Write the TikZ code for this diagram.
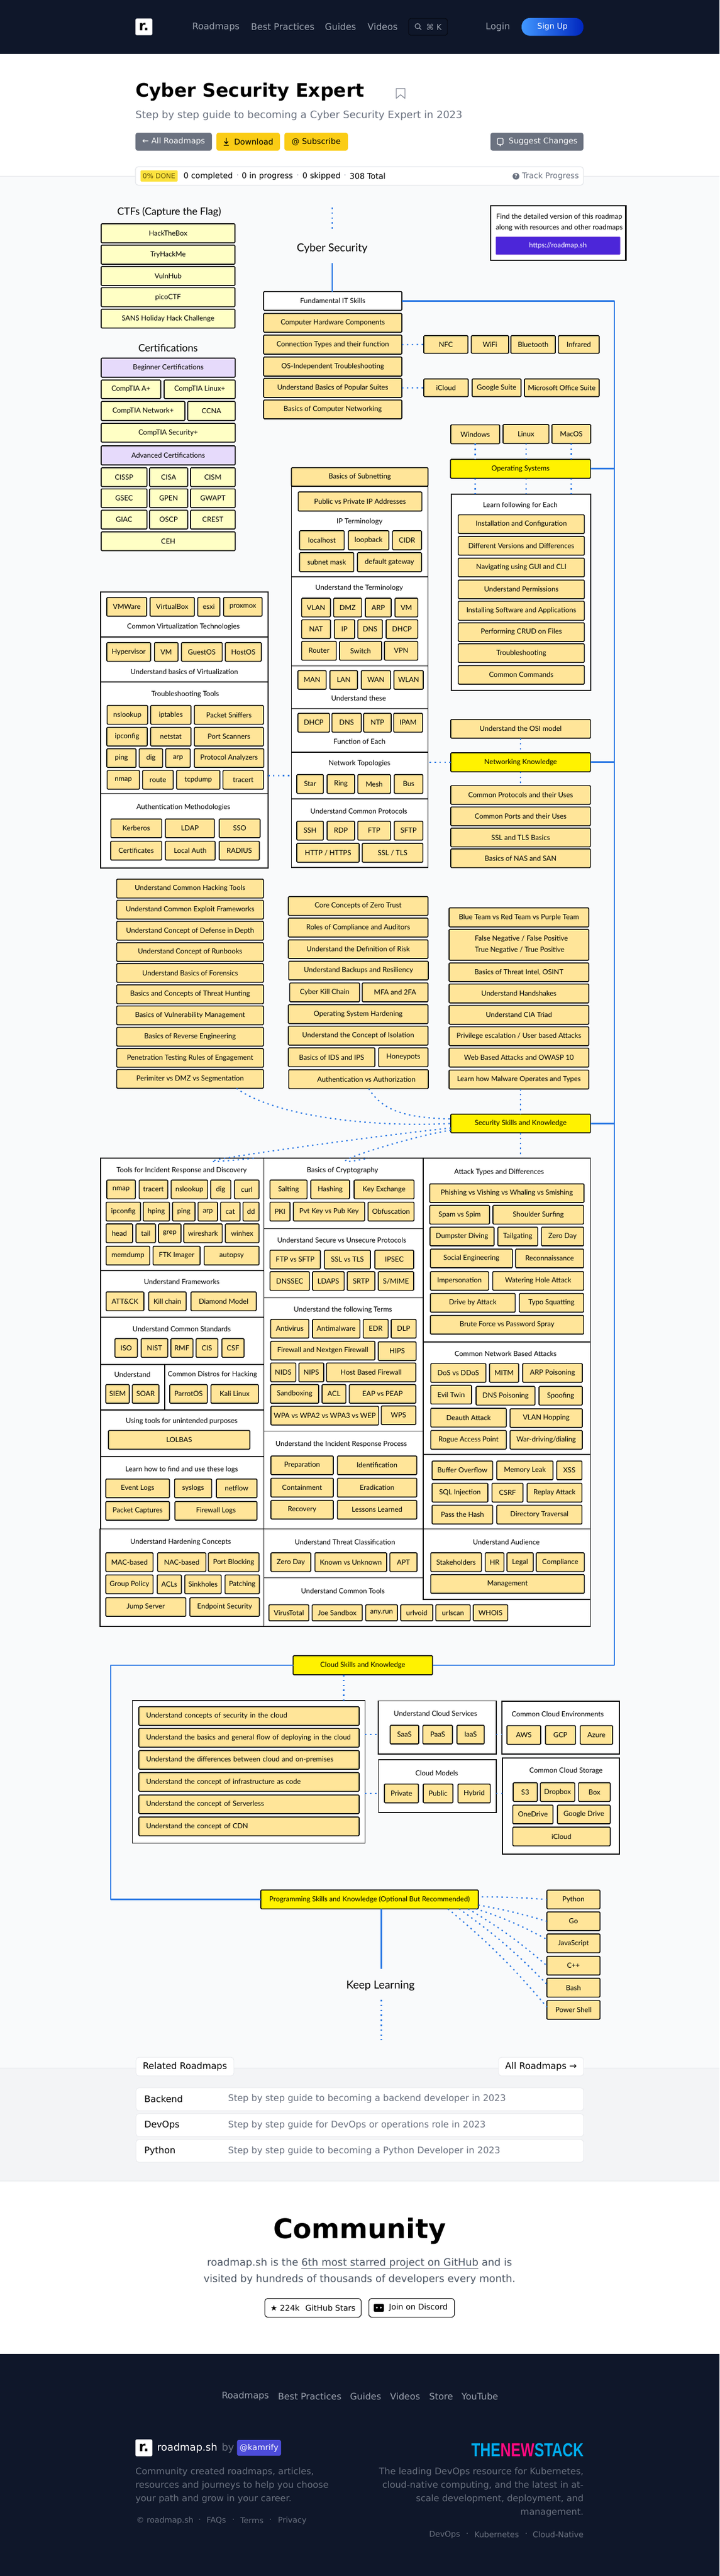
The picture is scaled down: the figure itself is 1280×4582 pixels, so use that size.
\documentclass[tikz,border=0pt]{standalone}
\usepackage{fontspec}
\setmainfont{DejaVu Sans}
\newfontfamily\balfont{Lato}
\newfontfamily\logofont{Liberation Sans}
\usetikzlibrary{calc}
\definecolor{navy}{HTML}{0F172A}
\definecolor{tanfill}{HTML}{FFE599}
\definecolor{lyfill}{HTML}{FFFFC5}
\definecolor{purpfill}{HTML}{E6DAFB}
\definecolor{linkblue}{HTML}{2B78E4}
\definecolor{ink}{HTML}{0B0B0B}
\definecolor{pagegray}{HTML}{F9FAFB}
\definecolor{lowgray}{HTML}{F3F4F6}
\definecolor{rule}{HTML}{E5E7EB}
\definecolor{g500}{HTML}{6B7280}
\definecolor{g400}{HTML}{9CA3AF}
\definecolor{g600}{HTML}{4B5563}
\definecolor{amber}{HTML}{FACC15}
\definecolor{tnscyan}{HTML}{00AEEF}
\definecolor{tnspink}{HTML}{FF0A80}
\newcommand{\boxfont}{\balfont\fontsize{12.5}{20}\selectfont}
\tikzset{
  basebox/.style={draw=ink,line width=1.6pt,rounded corners=1.5pt,inner sep=0pt,outer sep=0pt,align=center,text=black,font=\boxfont},
  tanbox/.style={basebox,fill=tanfill},
  lybox/.style={basebox,fill=lyfill},
  purpbox/.style={basebox,fill=purpfill},
  yelbox/.style={basebox,fill=yellow},
  whitebox/.style={basebox,fill=white},
  secbox/.style={basebox,fill=white,rounded corners=0pt},
  cloudit/.style={tanbox,text width=366pt,align=left},
  lbl/.style={inner sep=0pt,text=black,font=\boxfont,align=center},
  pg/.style={inner sep=0pt,anchor=west},
  pgr/.style={inner sep=0pt,anchor=east},
  pgc/.style={inner sep=0pt},
  solidlink/.style={draw=linkblue,line width=2.8pt},
  dotlink/.style={draw=linkblue,line width=2.2pt,dash pattern=on 2.6pt off 6.2pt},
  btn/.style={rounded corners=4pt,inner sep=0pt,draw=none},
  card/.style={fill=white,draw=rule,line width=0.8pt,rounded corners=5pt,inner sep=0pt},
}
\newcommand{\B}[7][tanbox]{%
  \pgfmathsetmacro\tmpW{#5-#3}\pgfmathsetmacro\tmpH{#6-#4}%
  \pgfmathsetmacro\tmpX{(#3+#5)/2}\pgfmathsetmacro\tmpY{(#4+#6)/2}%
  \node[#1,minimum width=\tmpW pt,minimum height=\tmpH pt] (#2) at (\tmpX,\tmpY) {#7};}
\newcommand{\T}[5][lbl]{\node[#1] (#2) at (#3,#4) {#5};}
\begin{document}
\begin{tikzpicture}[x=1pt,y=-1pt]
\useasboundingbox (0,0) rectangle (1280,4582);
% page bands
\fill[white] (0,0) rectangle (1280,4582);
\fill[navy] (0,0) rectangle (1280,96);
\fill[pagegray] (0,313.3) rectangle (1280,3678.3);
\draw[rule,line width=1pt] (0,313.3) -- (1280,313.3);
\fill[lowgray] (0,3678.3) rectangle (1280,3879);
\draw[rule,line width=1pt] (0,3678.3) -- (1280,3678.3);
\draw[rule,line width=1pt] (0,3879) -- (1280,3879);
\fill[navy] (0,4186.7) rectangle (1280,4582);

% header
\B[fill=white,rounded corners=2.5pt,inner sep=0pt,font=\bfseries\fontsize{24}{24}\selectfont]{hlogo}{241}{33}{271}{62.7}{r.}
\T[pg,text=g400,font=\fontsize{16}{20}\selectfont]{hn1}{342}{47.7}{Roadmaps}
\T[pg,text=g400,font=\fontsize{16}{20}\selectfont]{hn2}{446.5}{47.7}{Best Practices}
\T[pg,text=g400,font=\fontsize{16}{20}\selectfont]{hn3}{578}{47.7}{Guides}
\T[pg,text=g400,font=\fontsize{16}{20}\selectfont]{hn4}{654}{47.7}{Videos}
\B[draw=black!85!navy,line width=0.8pt,rounded corners=4pt,inner sep=0pt]{hsearch}{727}{33}{796}{62.7}{}
\draw[g400,line width=1.2pt] (743,46.5) circle (4.5pt) (746.2,49.7) -- (749.5,53);
\T[pg,text=g400,font=\fontsize{14}{18}\selectfont]{hkey}{758}{47.7}{⌘ K}
\T[pg,text=g400,font=\fontsize{16}{20}\selectfont]{hlogin}{864}{47.7}{Login}
\node[left color=blue!55!cyan!75!white,right color=blue!70!black!85!cyan,rounded corners=15pt,inner sep=0pt,minimum width=110pt,minimum height=31.7pt,text=white,font=\fontsize{14}{18}\selectfont] (hsign) at (983,47.8) {Sign Up};

% title block
\T[pg,text=black,font=\bfseries\fontsize{33}{40}\selectfont]{title}{241}{163.3}{Cyber Security Expert}
\draw[g500!80,line width=1.3pt,line join=round] (705,157.5) -- (720.5,157.5) -- (720.5,175) -- (712.7,168.5) -- (705,175) -- cycle;
\T[pg,text=g500,font=\fontsize{18}{22}\selectfont]{subtitle}{241}{206}{Step by step guide to becoming a Cyber Security Expert in 2023}
\B[btn,fill=g500,text=white,font=\fontsize{14}{18}\selectfont]{b1}{241}{236}{377}{268}{← All Roadmaps}
\B[btn,fill=amber,text=black,font=\fontsize{14}{18}\selectfont]{b2}{385}{236}{498}{268}{\hspace*{20pt}Download}
\draw[black,line width=1.3pt] (402.5,245) -- (402.5,255) (399,251.5) -- (402.5,255.5) -- (406,251.5) (398,258.5) -- (407,258.5);
\B[btn,fill=amber,text=black,font=\fontsize{14}{18}\selectfont]{b3}{506}{236}{619}{268}{@ Subscribe}
\B[btn,fill=g500,text=white,font=\fontsize{14}{18}\selectfont]{b4}{872.6}{236}{1038}{268}{\hspace*{22pt}Suggest Changes}
\draw[white,line width=1.2pt,rounded corners=1.5pt] (885,246) rectangle (895,257);
\fill[white] (888,257) -- (892,257) -- (890,260.5) -- cycle;

% progress bar
\B[fill=white,draw=rule,line width=1.2pt,rounded corners=5pt,inner sep=0pt]{prog0}{241}{296.5}{1038}{329.5}{}
\B[fill=yellow!45!amber!80!white,rounded corners=2pt,inner sep=0pt,text=amber!40!black,font=\fontsize{12}{16}\selectfont]{done}{250}{303}{316}{323}{0\% DONE}
\T[pg,font=\fontsize{14}{18}\selectfont]{p1}{326.5}{313.5}{0 completed}
\T[pg,text=g400,font=\fontsize{14}{18}\selectfont]{ps1}{420.5}{313.5}{·}
\T[pg,font=\fontsize{14}{18}\selectfont]{p2}{430}{313.5}{0 in progress}
\T[pg,text=g400,font=\fontsize{14}{18}\selectfont]{ps2}{527.5}{313.5}{·}
\T[pg,font=\fontsize{14}{18}\selectfont]{p3}{538}{313.5}{0 skipped}
\T[pg,text=g400,font=\fontsize{14}{18}\selectfont]{ps3}{611.5}{313.5}{·}
\T[pg,font=\fontsize{14}{18}\selectfont]{p4}{622}{313.5}{308 Total}
\T[pgr,text=g500,font=\fontsize{14}{18}\selectfont]{p5}{1030}{313.5}{Track Progress}
\node[circle,fill=g500,inner sep=0pt,minimum size=12pt,text=white,font=\bfseries\fontsize{9}{9}\selectfont] (pq) at (918,313.5) {?};

% link box
\B[whitebox,rounded corners=0pt,line width=2.2pt]{linkbox}{872.7}{365.7}{1113.5}{462.7}{}
\T{link1}{995}{385.7}{Find the detailed version of this roadmap}
\T{link2}{995}{404.7}{along with resources and other roadmaps}
\B[fill=blue!65!violet!85!white,draw=blue!55!violet!70!white,line width=1pt,rounded corners=1pt,inner sep=0pt,text=white,font=\boxfont]{linkbtn}{882.4}{421.3}{1103}{452.7}{https://roadmap.sh}

% left column: CTFs and certifications
\T{ctf}{301}{377}{\fontsize{18}{22}\selectfont CTFs (Capture the Flag)}
\B[lybox]{htb}{180}{398}{418}{432}{HackTheBox}
\B[lybox]{thm}{180}{436}{418}{470}{TryHackMe}
\B[lybox]{vuln}{180}{474}{418}{508}{VulnHub}
\B[lybox]{pico}{180}{511.6}{418}{545.6}{picoCTF}
\B[lybox]{sans}{180}{550}{418}{583.5}{SANS Holiday Hack Challenge}
\T{certs}{299}{618.5}{\fontsize{18}{22}\selectfont Certifications}
\B[purpbox]{beg}{180}{637}{418.5}{671}{Beginner Certifications}
\B[lybox]{aplus}{180}{676}{286}{709}{CompTIA A+}
\B[lybox]{linuxp}{292}{676}{418.5}{709}{CompTIA Linux+}
\B[lybox]{netp}{180}{714}{329}{748}{CompTIA Network+}
\B[lybox]{ccna}{334}{714}{418.5}{748}{CCNA}
\B[lybox]{secp}{180}{753}{418.5}{786.5}{CompTIA Security+}
\B[purpbox]{adv}{180}{793}{418.5}{827}{Advanced Certifications}
\B[lybox]{cissp}{180}{832}{261.5}{865.5}{CISSP}
\B[lybox]{cisa}{266}{832}{334}{865.5}{CISA}
\B[lybox]{cism}{339}{832}{418.5}{865.5}{CISM}
\B[lybox]{gsec}{180}{869.6}{261.5}{903}{GSEC}
\B[lybox]{gpen}{266}{869.6}{334}{903}{GPEN}
\B[lybox]{gwapt}{339}{869.6}{418.5}{903}{GWAPT}
\B[lybox]{giac}{180}{907.5}{261.5}{941}{GIAC}
\B[lybox]{oscp}{266}{907.5}{334}{941}{OSCP}
\B[lybox]{crest}{339}{907.5}{418.5}{941}{CREST}
\B[lybox]{ceh}{180}{946}{418.5}{979.5}{CEH}

% start / fundamentals
\T{cyber}{591}{442}{\fontsize{19.5}{24}\selectfont Cyber Security}
\B[whitebox]{fund}{469}{518.6}{715}{552}{Fundamental IT Skills}
\B{hw}{469}{557.5}{715}{591}{Computer Hardware Components}
\B{conn}{469}{596}{715}{630}{Connection Types and their function}
\B{ostrb}{469}{635}{715}{669}{OS-Independent Troubleshooting}
\B{suites}{469}{673}{715}{707}{Understand Basics of Popular Suites}
\B{cnet}{469}{711.5}{715}{745}{Basics of Computer Networking}
\B{nfc}{754}{597}{832.5}{628.5}{NFC}
\B{wifi}{838.5}{597}{905}{628.5}{WiFi}
\B{bt}{909}{597}{988}{628.5}{Bluetooth}
\B{ir}{993.6}{597}{1066}{628.5}{Infrared}
\B{icl}{754}{674}{833}{705.5}{iCloud}
\B{gsuite}{840}{674}{927}{705.5}{Google Suite}
\B{msoff}{933}{674}{1066}{705.5}{Microsoft Office Suite}

% operating systems
\B{win}{802}{755.6}{889}{789.3}{Windows}
\B{lin}{895}{755}{976.6}{788.7}{Linux}
\B{mac}{982}{755}{1051}{788.7}{MacOS}
\B[yelbox]{os}{801.5}{817}{1050.6}{850.7}{Operating Systems}
\B[secbox]{learn}{802.7}{878.8}{1051}{1228}{}
\T{learnt}{925.7}{898.7}{Learn following for Each}
\B{inst}{815.4}{915.6}{1039.6}{949}{Installation and Configuration}
\B{diff}{815.4}{954}{1039.6}{987.5}{Different Versions and Differences}
\B{nav}{815.4}{992.7}{1039.6}{1026}{Navigating using GUI and CLI}
\B{perm}{815.4}{1031.7}{1039.6}{1065}{Understand Permissions}
\B{soft}{815.4}{1069.3}{1039.6}{1103.3}{Installing Software and Applications}
\B{crud}{815.4}{1107.7}{1039.6}{1141}{Performing CRUD on Files}
\B{trb}{815.4}{1145}{1039.6}{1178.3}{Troubleshooting}
\B{cmd}{815.4}{1183.7}{1039.6}{1217}{Common Commands}

% networking column
\B{osi}{802}{1279.7}{1050.6}{1313}{Understand the OSI model}
\B[yelbox]{netk}{802}{1339}{1050.6}{1372.7}{Networking Knowledge}
\B{cproto}{802}{1397.3}{1050.6}{1430.7}{Common Protocols and their Uses}
\B{cports}{802}{1435.3}{1050.6}{1468.7}{Common Ports and their Uses}
\B{ssltls}{802}{1473}{1050.6}{1506.3}{SSL and TLS Basics}
\B{nas}{802}{1510}{1050.6}{1543.3}{Basics of NAS and SAN}

% subnet column
\B[secbox]{s1}{518.5}{864.7}{761.5}{1026}{}
\B[secbox]{s2}{518.5}{1026}{761.5}{1184.3}{}
\B[secbox]{s3}{518.5}{1184.3}{761.5}{1260.3}{}
\B[secbox]{s4}{518.5}{1260.3}{761.5}{1338}{}
\B[secbox]{s5}{518.5}{1338}{761.5}{1421}{}
\B[secbox]{s6}{518.5}{1421}{761.5}{1542.7}{}
\B{subnet}{518.5}{831.8}{761.5}{864.7}{Basics of Subnetting}
\B{pubpriv}{530.6}{875}{750.6}{909}{Public vs Private IP Addresses}
\T{ipt}{639.7}{927.8}{IP Terminology}
\B{localh}{533}{944}{612.4}{978}{localhost}
\B{loopb}{619.7}{944}{691.8}{978}{loopback}
\B{cidr}{698.4}{944}{750}{978}{CIDR}
\B{submask}{533}{983}{629.4}{1017}{subnet mask}
\B{defgw}{636}{983}{750}{1017}{default gateway}
\T{utt}{639}{1045.7}{Understand the Terminology}
\B{vlan}{536.6}{1064}{588}{1097.3}{VLAN}
\B{dmz}{593.6}{1064}{643.3}{1097.3}{DMZ}
\B{arpa}{650}{1064}{696}{1097.3}{ARP}
\B{vma}{702.7}{1064}{743.3}{1097.3}{VM}
\B{nat}{536.6}{1102.3}{588}{1135.7}{NAT}
\B{ipa}{594.8}{1102.3}{631}{1135.7}{IP}
\B{dnsa}{636.6}{1102.3}{680.3}{1135.7}{DNS}
\B{dhcpa}{687}{1102.3}{743.3}{1135.7}{DHCP}
\B{router}{536.6}{1140.7}{598.4}{1174.3}{Router}
\B{switch}{604}{1140.7}{679}{1174.3}{Switch}
\B{vpn}{684}{1140.7}{743.3}{1174.3}{VPN}
\B{man}{530}{1192.7}{580.3}{1226}{MAN}
\B{lan}{587}{1192.7}{636}{1226}{LAN}
\B{wan}{642.7}{1192.7}{694.8}{1226}{WAN}
\B{wlan}{700.9}{1192.7}{753}{1226}{WLAN}
\T{uthese}{638}{1241.7}{Understand these}
\B{dhcpb}{530}{1268.7}{586.3}{1302.3}{DHCP}
\B{dnsb}{590.6}{1268.7}{642.7}{1302.3}{DNS}
\B{ntp}{647}{1268.7}{696}{1302.3}{NTP}
\B{ipam}{700.3}{1268.7}{751.8}{1302.3}{IPAM}
\T{feach}{639.6}{1318.7}{Function of Each}
\T{ntop}{639.6}{1357.7}{Network Topologies}
\B{star}{528}{1377.7}{575.4}{1411.3}{Star}
\B{ring}{582}{1377.7}{631}{1411.3}{Ring}
\B{mesh}{636.6}{1377.7}{694.8}{1411.3}{Mesh}
\B{bus}{701.5}{1377.7}{752.4}{1411.3}{Bus}
\T{ucp}{638.4}{1442.7}{Understand Common Protocols}
\B{ssh}{528}{1460.7}{575.4}{1494.3}{SSH}
\B{rdp}{582}{1460.7}{631}{1494.3}{RDP}
\B{ftp}{636.6}{1460.7}{694.8}{1494.3}{FTP}
\B{sftp}{701.5}{1460.7}{752.4}{1494.3}{SFTP}
\B{http}{528}{1500}{639}{1533.7}{HTTP / HTTPS}
\B{ssltl}{644.5}{1500}{752.4}{1533.7}{SSL / TLS}

% virtualization column
\B[secbox]{v1}{179}{1052.7}{477}{1133}{}
\B[secbox]{v2}{179}{1133}{477}{1213}{}
\B[secbox]{v3}{179}{1213}{477}{1411.3}{}
\B[secbox]{v4}{179}{1411.3}{477}{1544}{}
\B{vmw}{190}{1062.7}{261}{1096}{VMWare}
\B{vbox}{267}{1062.7}{345.8}{1096}{VirtualBox}
\B{esxi}{351.8}{1062.7}{391.2}{1096}{esxi}
\B{prox}{397.9}{1062.7}{466.3}{1096}{proxmox}
\T{cvt}{326.3}{1114.7}{Common Virtualization Technologies}
\B{hyper}{190}{1143}{268}{1176.3}{Hypervisor}
\B{vmb}{274.8}{1143}{316.7}{1176.3}{VM}
\B{guest}{322.7}{1143}{395.4}{1176.3}{GuestOS}
\B{hosto}{400.9}{1143}{465}{1176.3}{HostOS}
\T{ubv}{328}{1194.7}{Understand basics of Virtualization}
\T{ttools}{329.4}{1234.7}{Troubleshooting Tools}
\B{nslk}{190.6}{1254.7}{262.7}{1288.3}{nslookup}
\B{ipt2}{268}{1254.7}{339.7}{1288.3}{iptables}
\B{sniff}{345.8}{1254.7}{468.8}{1288.3}{Packet Sniffers}
\B{ipcfg}{190}{1293.7}{262}{1327}{ipconfig}
\B{nstat}{268}{1293.7}{339.7}{1327}{netstat}
\B{pscan}{345.8}{1293.7}{468.8}{1327}{Port Scanners}
\B{pingb}{190}{1331.7}{242}{1365}{ping}
\B{digb}{247.6}{1331.7}{289.4}{1365}{dig}
\B{arpb}{294.8}{1331.7}{338.5}{1365}{arp}
\B{proto}{345.8}{1331.7}{469.4}{1365}{Protocol Analyzers}
\B{nmapb}{190.6}{1370.3}{248.2}{1403.7}{nmap}
\B{route}{253.6}{1370.3}{308.2}{1403.7}{route}
\B{tcpd}{314.2}{1370.3}{391.2}{1403.7}{tcpdump}
\B{trac}{396.6}{1370.3}{468.8}{1403.7}{tracert}
\T{authm}{326.3}{1435.7}{Authentication Methodologies}
\B{kerb}{197.3}{1456.7}{287.6}{1490}{Kerberos}
\B{ldap}{294.2}{1456.7}{381.5}{1490}{LDAP}
\B{sso}{390}{1456.7}{462.7}{1490}{SSO}
\B{certf}{197}{1496.3}{287.6}{1529.7}{Certificates}
\B{local}{294.2}{1496.3}{382.7}{1529.7}{Local Auth}
\B{radius}{390}{1496.3}{461.5}{1529.7}{RADIUS}

% security lists
\B{l1}{207.6}{1563.7}{468.8}{1597.3}{Understand Common Hacking Tools}
\B{l2}{207.6}{1601.3}{468.8}{1634.7}{Understand Common Exploit Frameworks}
\B{l3}{207.6}{1638.7}{468.8}{1672.3}{Understand Concept of Defense in Depth}
\B{l4}{207.6}{1676.7}{468.8}{1710}{Understand Concept of Runbooks}
\B{l5}{207.6}{1714}{468.8}{1747.3}{Understand Basics of Forensics}
\B{l6}{207.6}{1751.7}{468.8}{1785.3}{Basics and Concepts of Threat Hunting}
\B{l7}{207.6}{1789.3}{468.8}{1822.7}{Basics of Vulnerability Management}
\B{l8}{207.6}{1827.3}{468.8}{1860.7}{Basics of Reverse Engineering}
\B{l9}{207.6}{1865}{468.8}{1898.3}{Penetration Testing Rules of Engagement}
\B{l10}{207.6}{1902.3}{468.8}{1935.7}{Perimiter vs DMZ vs Segmentation}
\B{c1}{513}{1594.7}{761.5}{1628.3}{Core Concepts of Zero Trust}
\B{c2}{513}{1633}{761.5}{1666.7}{Roles of Compliance and Auditors}
\B{c3}{513}{1671.7}{761.5}{1705}{Understand the Definition of Risk}
\B{c4}{513.6}{1709.7}{762}{1743}{Understand Backups and Resiliency}
\B{c5}{515.4}{1748.3}{639.7}{1782}{Cyber Kill Chain}
\B{c6}{644.5}{1748.3}{761.5}{1782}{MFA and 2FA}
\B{c7}{513}{1787}{761.5}{1820.7}{Operating System Hardening}
\B{c8}{513}{1825.3}{761.5}{1859}{Understand the Concept of Isolation}
\B{c9}{513}{1863.7}{667}{1897.3}{Basics of IDS and IPS}
\B{c10}{673.6}{1863.7}{761.5}{1897.3}{Honeypots}
\B{c11}{513.6}{1902.7}{762}{1936.3}{\hspace*{28pt}Authentication vs Authorization}
\B{r1}{799}{1614.7}{1047.5}{1648.7}{Blue Team vs Red Team vs Purple Team}
\B[tanbox,align=left]{r2}{799}{1653}{1047.5}{1708}{\hspace*{9pt}False Negative / False Positive\\\hspace*{9pt}True Negative / True Positive}
\B{r3}{799}{1712.7}{1047.5}{1746}{Basics of Threat Intel, OSINT}
\B{r4}{799}{1750.3}{1047.5}{1784}{Understand Handshakes}
\B{r5}{799}{1788.3}{1047.5}{1822}{Understand CIA Triad}
\B{r6}{799}{1826.3}{1047.5}{1860}{Privilege escalation / User based Attacks}
\B{r7}{799}{1864.3}{1047.5}{1898}{Web Based Attacks and OWASP 10}
\B{r8}{799}{1903.3}{1047.5}{1937}{Learn how Malware Operates and Types}
\B[yelbox]{sec}{802}{1981.7}{1050.6}{2015}{Security Skills and Knowledge}

% big table: sections
\B[secbox]{t1}{179}{2060}{469.4}{2260}{}
\B[secbox]{t2}{179}{2260}{469.4}{2342.7}{}
\B[secbox]{t3}{179}{2342.7}{469.4}{2426.7}{}
\B[secbox]{t4a}{179}{2426.7}{293}{2508}{}
\B[secbox]{t4b}{293}{2426.7}{469.4}{2508}{}
\B[secbox]{t5}{179}{2508}{469.4}{2590.7}{}
\B[secbox]{t6}{179}{2590.7}{469.4}{2719.3}{}
\B[secbox]{t7}{178}{2719.3}{469.4}{2893}{}
\B[secbox]{m1}{469.4}{2060}{753}{2185.3}{}
\B[secbox]{m2}{469.4}{2185.3}{753}{2308.3}{}
\B[secbox]{m3}{469.4}{2308.3}{753}{2545.3}{}
\B[secbox]{m4}{469.4}{2545.3}{753}{2719.3}{}
\B[secbox]{m5}{469.4}{2719.3}{753}{2806.3}{}
\B[secbox]{m6}{469.4}{2806.3}{1050.6}{2893}{}
\B[secbox]{a1}{753}{2060}{1050.6}{2386.7}{}
\B[secbox]{a2}{753}{2386.7}{1050.6}{2587}{}
\B[secbox]{a3}{753}{2587}{1050.6}{2719.3}{}
\B[secbox]{a4}{753}{2719.3}{1050.6}{2844.7}{}

\T{tir}{323.3}{2081.7}{Tools for Incident Response and Discovery}
\B{nmapc}{190}{2099}{240.9}{2132.3}{nmap}
\B{tracc}{247.6}{2099}{298.5}{2132.3}{tracert}
\B{nslkc}{304.5}{2099}{369.4}{2132.3}{nslookup}
\B{digc}{374.8}{2099}{410.6}{2132.3}{dig}
\B{curl}{417.2}{2099}{460.9}{2132.3}{curl}
\B{ipcc}{188.8}{2138.3}{250}{2171.7}{ipconfig}
\B{hping}{254.8}{2138.3}{301.5}{2171.7}{hping}
\B{pingc}{307}{2138.3}{347}{2171.7}{ping}
\B{arpc}{352.4}{2138.3}{387}{2171.7}{arp}
\B{cat}{392.4}{2138.3}{427}{2171.7}{cat}
\B{dd}{432.4}{2138.3}{460.9}{2171.7}{dd}
\B{head}{188.8}{2177}{236}{2210.3}{head}
\B{tail}{242}{2177}{276.7}{2210.3}{tail}
\B{grep}{282}{2177}{322}{2210.3}{grep}
\B{wire}{327}{2177}{395.4}{2210.3}{wireshark}
\B{winh}{400.9}{2177}{460.9}{2210.3}{winhex}
\B{memd}{188.8}{2216.7}{266.4}{2250}{memdump}
\B{ftk}{272.4}{2216.7}{356}{2250}{FTK Imager}
\B{autop}{363.3}{2216.7}{460.9}{2250}{autopsy}
\T{ufw}{323.3}{2279.7}{Understand Frameworks}
\B{attck}{188.8}{2298}{256}{2331.3}{ATT\&CK}
\B{killc}{264.5}{2298}{331.2}{2331.3}{Kill chain}
\B{diam}{339.7}{2298}{456}{2331.3}{Diamond Model}
\T{ucs}{323.3}{2363.7}{Understand Common Standards}
\B{iso}{204.5}{2381}{244.5}{2414.3}{ISO}
\B{nist}{251.2}{2381}{298.5}{2414.3}{NIST}
\B{rmf}{304}{2381}{343.3}{2414.3}{RMF}
\B{cis}{348.8}{2381}{387.6}{2414.3}{CIS}
\B{csf}{394.8}{2381}{434.2}{2414.3}{CSF}
\T{und}{235.4}{2445.3}{Understand}
\T{cdh}{377.9}{2444.7}{Common Distros for Hacking}
\B{siem}{188.2}{2462.7}{230}{2496}{SIEM}
\B{soar}{235.4}{2462.7}{282.7}{2496}{SOAR}
\B{parrot}{302}{2462.7}{368.8}{2496}{ParrotOS}
\B{kali}{375.4}{2462.7}{459.7}{2496}{Kali Linux}
\T{uup}{323.3}{2527.7}{Using tools for unintended purposes}
\B{lol}{193}{2544.3}{444.5}{2577.7}{LOLBAS}
\T{lhow}{323.3}{2613.7}{Learn how to find and use these logs}
\B{evl}{188.2}{2630.7}{301.5}{2664}{Event Logs}
\B{sysl}{310.6}{2630.7}{376.6}{2664}{syslogs}
\B{netfl}{385}{2630.7}{457.2}{2664}{netflow}
\B{pcap}{188.2}{2670.7}{301.5}{2704}{Packet Captures}
\B{fwl}{311.2}{2670.7}{457.2}{2704}{Firewall Logs}
\T{uhc}{321.5}{2742.7}{Understand Hardening Concepts}
\B{macb}{188.2}{2762}{272.4}{2795.3}{MAC-based}
\B{nacb}{280.3}{2762}{366.3}{2795.3}{NAC-based}
\B{portb}{370.6}{2762}{460.9}{2795.3}{Port Blocking}
\B{gpol}{188.2}{2801.3}{272.4}{2834.7}{Group Policy}
\B{acls}{279.7}{2801.3}{322.7}{2834.7}{ACLs}
\B{sink}{328.8}{2801.3}{393.6}{2834.7}{Sinkholes}
\B{patch}{400.3}{2801.3}{461.5}{2834.7}{Patching}
\B{jump}{188.2}{2841.7}{330.6}{2875}{Jump Server}
\B{endp}{337.9}{2841.7}{461.5}{2875}{Endpoint Security}

\T{boc}{609.3}{2081.7}{Basics of Cryptography}
\B{salt}{480.3}{2099}{546.3}{2132.3}{Salting}
\B{hash}{553}{2099}{622}{2132.3}{Hashing}
\B{kex}{630}{2099}{736.6}{2132.3}{Key Exchange}
\B{pki}{480.3}{2138.3}{516}{2171.7}{PKI}
\B{pvt}{522}{2138.3}{648.8}{2171.7}{Pvt Key vs Pub Key}
\B{obf}{654.8}{2138.3}{736.6}{2171.7}{Obfuscation}
\T{usu}{608}{2205.7}{Understand Secure vs Unsecure Protocols}
\B{fvs}{480.3}{2223.7}{570}{2257}{FTP vs SFTP}
\B{svt}{577.2}{2223.7}{659}{2257}{SSL vs TLS}
\B{ipsec}{667}{2223.7}{736}{2257}{IPSEC}
\B{dnssec}{480.3}{2262}{550.6}{2295.3}{DNSSEC}
\B{ldaps}{556}{2262}{612.4}{2295.3}{LDAPS}
\B{srtp}{617.8}{2262}{667}{2295.3}{SRTP}
\B{smime}{673}{2262}{736}{2295.3}{S/MIME}
\T{uft}{610}{2329.7}{Understand the following Terms}
\B{av}{481.5}{2346.7}{549.4}{2380}{Antivirus}
\B{am}{556}{2346.7}{640.3}{2380}{Antimalware}
\B{edr}{646.3}{2346.7}{690.6}{2380}{EDR}
\B{dlp}{696}{2346.7}{740.3}{2380}{DLP}
\B{fwn}{481.5}{2385.7}{667}{2419}{Firewall and Nextgen Firewall}
\B{hips}{673}{2386.7}{740.3}{2420}{HIPS}
\B{nids}{481.5}{2424.3}{526.3}{2457.7}{NIDS}
\B{nips}{531.8}{2424.3}{576}{2457.7}{NIPS}
\B{hbf}{580.9}{2424.3}{739.7}{2457.7}{Host Based Firewall}
\B{sandb}{481.5}{2462.7}{567}{2496}{Sandboxing}
\B{aclb}{573}{2462.7}{615.4}{2496}{ACL}
\B{eap}{621.5}{2462.7}{739.7}{2496}{EAP vs PEAP}
\B{wpa}{482}{2501.3}{673.6}{2534.7}{WPA vs WPA2 vs WPA3 vs WEP}
\B{wps}{678.4}{2500.7}{739.7}{2534}{WPS}
\T{uirp}{607}{2568.7}{Understand the Incident Response Process}
\B{prep}{482}{2589.7}{593}{2623}{Preparation}
\B{ident}{600.3}{2589.7}{741.5}{2623}{Identification}
\B{cont}{482}{2629.3}{593}{2662.7}{Containment}
\B{erad}{600.3}{2629.3}{741.5}{2662.7}{Eradication}
\B{recov}{482}{2668.7}{593}{2702}{Recovery}
\B{lesson}{600.3}{2668.7}{741.5}{2702}{Lessons Learned}
\T{utc}{613.6}{2742.7}{Understand Threat Classification}
\B{zd}{482}{2762}{553}{2795.3}{Zero Day}
\B{kvu}{560.3}{2762}{688}{2795.3}{Known vs Unknown}
\B{apt}{693.6}{2762}{742}{2795.3}{APT}
\T{uct}{610}{2829.7}{Understand Common Tools}
\B{vt}{478.5}{2854.3}{549.4}{2883}{VirusTotal}
\B{joe}{555.4}{2854.3}{644.5}{2883}{Joe Sandbox}
\B{anyr}{650.6}{2854.3}{707}{2883}{any.run}
\B{urlv}{713}{2854.3}{770}{2883}{urlvoid}
\B{urls}{775.4}{2854.3}{836.6}{2883}{urlscan}
\B{whois}{842}{2854.3}{903.3}{2883}{WHOIS}

\T{atd}{888}{2084.7}{Attack Types and Differences}
\B{phish}{764.5}{2105.7}{1039}{2139}{Phishing vs Vishing vs Whaling vs Smishing}
\B{spam}{764.5}{2144}{871}{2177.3}{Spam vs Spim}
\B{shoul}{877}{2144}{1038.4}{2177.3}{Shoulder Surfing}
\B{dump}{765}{2182.7}{879}{2216}{Dumpster Diving}
\B{tailg}{885.7}{2182.7}{956.6}{2216}{Tailgating}
\B{zdb}{963.3}{2182.7}{1038.4}{2216}{Zero Day}
\B{social}{765.7}{2221.7}{911.8}{2255}{Social Engineering}
\B{recon}{917.2}{2221.7}{1038.4}{2255}{Reconnaissance}
\B{imper}{765.7}{2261.7}{869.3}{2295}{Impersonation}
\B{water}{876.6}{2261.7}{1038.4}{2295}{Watering Hole Attack}
\B{drive}{765.7}{2300.7}{916.6}{2334}{Drive by Attack}
\B{typo}{923.9}{2300.7}{1038.4}{2334}{Typo Squatting}
\B{brute}{765.7}{2339.7}{1038.4}{2373}{Brute Force vs Password Spray}
\T{cnb}{899.6}{2407.7}{Common Network Based Attacks}
\B{dos}{766.3}{2425.3}{864.5}{2458.7}{DoS vs DDoS}
\B{mitm}{871}{2425.3}{922.7}{2458.7}{MITM}
\B{arpp}{930}{2425.3}{1036}{2458.7}{ARP Poisoning}
\B{evil}{766.3}{2464}{839}{2497.3}{Evil Twin}
\B{dnsp}{847}{2466}{951.8}{2499.3}{DNS Poisoning}
\B{spoof}{959}{2466}{1036}{2499.3}{Spoofing}
\B{deauth}{766.3}{2505}{900.8}{2538.3}{Deauth Attack}
\B{vhop}{907.5}{2505.7}{1036}{2539}{VLAN Hopping}
\B{rogue}{766.3}{2544.3}{900.8}{2577.7}{Rogue Access Point}
\B{war}{907.5}{2544.3}{1036}{2577.7}{War-driving/dialing}
\B{buff}{768.7}{2598.7}{876.6}{2632}{Buffer Overflow}
\B{memlk}{883.9}{2598.7}{983.9}{2632}{Memory Leak}
\B{xss}{990.5}{2598.7}{1035.4}{2632}{XSS}
\B{sqli}{768.7}{2638.3}{868}{2671.7}{SQL Injection}
\B{csrf}{875.4}{2638.3}{930.5}{2671.7}{CSRF}
\B{repl}{937.8}{2638.3}{1035.4}{2671.7}{Replay Attack}
\B{pth}{768.7}{2677.3}{876.6}{2710.7}{Pass the Hash}
\B{dirt}{883.9}{2677.3}{1035.4}{2710.7}{Directory Traversal}
\T{uaud}{900.8}{2742.7}{Understand Audience}
\B{stake}{766.3}{2762}{856.6}{2795.3}{Stakeholders}
\B{hr}{863.3}{2762}{896.6}{2795.3}{HR}
\B{legal}{902}{2762}{948.7}{2795.3}{Legal}
\B{compl}{954}{2762}{1039.6}{2795.3}{Compliance}
\B{mgmt}{766.3}{2800.7}{1039.6}{2834}{Management}

% cloud
\B[yelbox]{cloud}{521.5}{2945}{769.5}{2979}{Cloud Skills and Knowledge}
\B[secbox]{cl0}{235.4}{3025}{649.4}{3278.3}{}
\B[cloudit]{cl1}{247}{3035.7}{639}{3069}{Understand concepts of security in the cloud}
\B[cloudit]{cl2}{247}{3074.3}{639}{3107.7}{Understand the basics and general flow of deploying in the cloud}
\B[cloudit]{cl3}{247}{3113.7}{639}{3147}{Understand the differences between cloud and on-premises}
\B[cloudit]{cl4}{247}{3153}{639}{3186.3}{Understand the concept of infrastructure as code}
\B[cloudit]{cl5}{247}{3192.7}{639}{3226}{Understand the concept of Serverless}
\B[cloudit]{cl6}{247}{3232}{639}{3265.3}{Understand the concept of CDN}
\B[secbox]{ucs0}{673}{3025.3}{882.7}{3119.7}{}
\T{ucst}{774.8}{3047.7}{Understand Cloud Services}
\B{saas}{694.2}{3068.7}{745}{3102}{SaaS}
\B{paas}{752.4}{3068.7}{805}{3102}{PaaS}
\B{iaas}{813}{3068.7}{861.5}{3102}{IaaS}
\B[secbox]{cm0}{673.6}{3130}{882.7}{3223.7}{}
\T{cmt}{777}{3153.7}{Cloud Models}
\B{priv}{684}{3173.3}{744.5}{3206.7}{Private}
\B{publ}{753}{3173.3}{805.7}{3206.7}{Public}
\B{hybr}{814.8}{3173.3}{872.4}{3206.7}{Hybrid}
\B[secbox]{ce0}{893}{3026}{1102}{3120}{}
\T{cet}{992.3}{3048.7}{Common Cloud Environments}
\B{aws}{902}{3069.3}{962}{3102.7}{AWS}
\B{gcp}{970.5}{3069.3}{1023.9}{3102.7}{GCP}
\B{azure}{1032.4}{3069.3}{1090}{3102.7}{Azure}
\B[secbox]{cs0}{894}{3126.7}{1102}{3297.7}{}
\T{cst}{1007}{3149.7}{Common Cloud Storage}
\B{s3}{913}{3171}{956}{3204.3}{S3}
\B{drop}{961.4}{3171}{1022.6}{3204.3}{Dropbox}
\B{boxb}{1029.3}{3171}{1085.7}{3204.3}{Box}
\B{oned}{912.3}{3210.7}{983.9}{3244}{OneDrive}
\B{gdr}{991.7}{3210.7}{1085.7}{3244}{Google Drive}
\B{icl2}{912.3}{3250}{1085.7}{3283.3}{iCloud}

% programming
\B[yelbox]{prog}{464}{3361.7}{851}{3395.3}{Programming Skills and Knowledge (Optional But Recommended)}
\B{py}{973}{3362}{1067.5}{3395.3}{Python}
\B{go}{973}{3400.7}{1067.5}{3434}{Go}
\B{js}{973}{3440}{1067.5}{3473.3}{JavaScript}
\B{cpp}{973}{3479.7}{1067.5}{3513}{C++}
\B{bash}{973}{3518.7}{1067.5}{3552.3}{Bash}
\B{ps}{973}{3558.3}{1067.5}{3591.7}{Power Shell}
\T{keep}{677}{3532}{\fontsize{19.5}{24}\selectfont Keep Learning}

% connector anchors
\coordinate (railtop) at (1093,535.3);
\coordinate (railbot) at (1093,2962);
\coordinate (leftrailtop) at (197,2962);
\coordinate (leftrailbot) at (197,3378.5);
\coordinate (starttop) at (591,369);
\coordinate (startgap) at (591,407);
\coordinate (startlow) at (591,468);
\coordinate (keephi) at (678.5,3502);
\coordinate (keeplo) at (678.5,3557);
\coordinate (keepend) at (678.5,3629);

% solid connectors
\draw[solidlink,line join=round] (fund.east) -- (railtop) -- (railbot) -- (cloud.east |- railbot);
\draw[solidlink] (os.east) -- (os.east -| railtop);
\draw[solidlink] (netk.east) -- (netk.east -| railtop);
\draw[solidlink] (sec.east) -- (sec.east -| railtop);
\draw[solidlink,line join=round] (cloud.west |- railbot) -- (leftrailtop) -- (leftrailbot) -- (prog.west);
\draw[solidlink] (startlow) -- (fund.north -| startlow);
\draw[solidlink] (prog.south -| keephi) -- (keephi);

% dotted connectors
\draw[dotlink] (starttop) -- (startgap);
\draw[dotlink] (keeplo) -- (keepend);
\draw[dotlink] (conn.east) -- (nfc.west);
\draw[dotlink] (suites.east) -- (icl.west);
\draw[dotlink] (win.south) -- (win.south |- os.north);
\draw[dotlink] (lin.south) -- (lin.south |- os.north);
\draw[dotlink] (mac.south) -- (mac.south |- os.north);
\draw[dotlink] (win.south |- os.south) -- (win.south |- learn.north);
\draw[dotlink] (lin.south |- os.south) -- (lin.south |- learn.north);
\draw[dotlink] (mac.south |- os.south) -- (mac.south |- learn.north);
\draw[dotlink] (osi.south) -- (netk.north);
\draw[dotlink] (netk.south) -- (cproto.north);
\draw[dotlink] (netk.west) -- (netk.west -| s5.east);
\draw[dotlink] (v3.east |- s5.west) -- (s5.west);
\draw[dotlink] (r8.south -| sec.north) -- (sec.north);
\draw[dotlink] (sec.south) -- ([yshift=7pt]sec.south |- a1.north);
\draw[dotlink] ([xshift=-48pt]l10.south east) .. controls +(60,45) and +(-160,8) .. (sec.west);
\draw[dotlink] ([xshift=-106pt]c11.south east) .. controls +(25,40) and +(-80,-2) .. ([yshift=8pt]sec.west);
\draw[dotlink] ([yshift=-8pt]sec.west) .. controls +(-170,18) and +(-250,25) .. ([xshift=-16pt]t1.north east);
\draw[dotlink] ([yshift=-12pt]sec.west) .. controls +(-80,12) and +(-125,25) .. ([xshift=-97pt]m1.north east);
\draw[dotlink] (cloud.south -| cl0.north east) ++(-38,0) -- ([xshift=-38pt]cl0.north east);
\draw[dotlink] (cl0.east |- saas.west) -- (ucs0.west |- saas.west);
\draw[dotlink] (cl0.east |- priv.west) -- (cm0.west |- priv.west);
\draw[dotlink] (ucs0.east |- saas.west) -- (ce0.west |- saas.west);
\draw[dotlink] (cm0.east |- priv.west) -- (cs0.west |- priv.west);
\draw[dotlink] ([xshift=6pt,yshift=4.5pt]prog.east) to[bend left=2] (py.west);
\draw[dotlink] ([yshift=-10pt]prog.east) to[bend left=3] (go.west);
\draw[dotlink] ([xshift=-4pt]prog.south east) to[bend left=5] ([yshift=7pt]js.west);
\draw[dotlink] ([xshift=-18pt]prog.south east) to[bend left=5] (cpp.west);
\draw[dotlink] ([xshift=-34pt]prog.south east) to[bend left=5] ([yshift=6pt]bash.west);
\draw[dotlink] ([xshift=-54pt]prog.south east) to[bend left=5] ([yshift=5pt]ps.west);

% related roadmaps
\B[card]{rel}{242}{3659.3}{416}{3692.3}{\fontsize{16}{20}\selectfont Related Roadmaps}
\B[card]{allr}{887}{3659.3}{1038.3}{3692.3}{\fontsize{16}{20}\selectfont All Roadmaps →}
\B[card]{cback}{242}{3713.7}{1038.3}{3754.3}{}
\B[card]{cdev}{242}{3759.7}{1038.3}{3800.3}{}
\B[card]{cpy}{242}{3805.7}{1038.3}{3846}{}
\T[pg,font=\fontsize{16}{20}\selectfont]{cbn}{256.6}{3733.5}{Backend}
\T[pg,font=\fontsize{16}{20}\selectfont]{cdn}{256.6}{3779.7}{DevOps}
\T[pg,font=\fontsize{16}{20}\selectfont]{cpn}{256.6}{3825.7}{Python}
\T[pg,text=g500,font=\fontsize{16}{20}\selectfont]{cbd}{405.7}{3733.5}{Step by step guide to becoming a backend developer in 2023}
\T[pg,text=g500,font=\fontsize{16}{20}\selectfont]{cdd}{405.7}{3779.7}{Step by step guide for DevOps or operations role in 2023}
\T[pg,text=g500,font=\fontsize{16}{20}\selectfont]{cpd}{405.7}{3825.7}{Step by step guide to becoming a Python Developer in 2023}

% community
\T[pgc,text=black,font=\bfseries\fontsize{48}{56}\selectfont]{comm}{639.7}{3968}{Community}
\T[pgc,text=g600,font=\fontsize{18}{22}\selectfont]{comm1}{639.7}{4026}{roadmap.sh is the \underline{6th most starred project on GitHub} and is}
\T[pgc,text=g600,font=\fontsize{18}{22}\selectfont]{comm2}{639.7}{4054}{visited by hundreds of thousands of developers every month.}
\B[fill=white,draw=black,line width=1pt,rounded corners=6pt,inner sep=0pt,font=\fontsize{14}{18}\selectfont]{gh}{471}{4088.3}{642.7}{4121.7}{★ 224k\hspace{6pt} GitHub Stars}
\B[fill=white,draw=black,line width=1pt,rounded corners=6pt,inner sep=0pt,font=\fontsize{14}{18}\selectfont]{disc}{656}{4088.3}{808.7}{4121.7}{\hspace*{24pt}Join on Discord}
\fill[black,rounded corners=2pt] (665,4098) rectangle (683,4112);
\fill[white] (670.5,4104.5) circle (1.8pt) (677.5,4104.5) circle (1.8pt);

% footer
\T[pg,text=g400,font=\fontsize{16}{20}\selectfont]{f1}{394.3}{4262.3}{Roadmaps}
\T[pg,text=g400,font=\fontsize{16}{20}\selectfont]{f2}{494.4}{4262.3}{Best Practices}
\T[pg,text=g400,font=\fontsize{16}{20}\selectfont]{f3}{622.6}{4262.3}{Guides}
\T[pg,text=g400,font=\fontsize{16}{20}\selectfont]{f4}{694}{4262.3}{Videos}
\T[pg,text=g400,font=\fontsize{16}{20}\selectfont]{f5}{763.5}{4262.3}{Store}
\T[pg,text=g400,font=\fontsize{16}{20}\selectfont]{f6}{821}{4262.3}{YouTube}
\B[fill=white,rounded corners=2.5pt,inner sep=0pt,font=\bfseries\fontsize{24}{24}\selectfont]{flogo}{241}{4339}{271}{4369}{r.}
\T[pg,text=white,font=\fontsize{18}{22}\selectfont]{fname}{279.5}{4354}{roadmap.sh}
\T[pg,text=g500,font=\fontsize{18}{22}\selectfont]{fby}{394.3}{4354}{by}
\B[fill=blue!65!white!85!black,rounded corners=3pt,inner sep=0pt,text=white,font=\fontsize{14.5}{18}\selectfont]{fkam}{421.7}{4340}{500}{4368}{@kamrify}
\T[pg,text=g500,font=\fontsize{16}{24}\selectfont]{fd1}{241}{4396.7}{Community created roadmaps, articles,}
\T[pg,text=g500,font=\fontsize{16}{24}\selectfont]{fd2}{241}{4420.7}{resources and journeys to help you choose}
\T[pg,text=g500,font=\fontsize{16}{24}\selectfont]{fd3}{241}{4444.7}{your path and grow in your career.}
\T[pg,text=g500,font=\fontsize{14}{18}\selectfont]{fc1}{242.5}{4483.3}{© roadmap.sh}
\T[pg,text=g500,font=\fontsize{14}{18}\selectfont]{fcs1}{353}{4483.3}{·}
\T[pg,text=g500,font=\fontsize{14}{18}\selectfont]{fc2}{367.5}{4483.3}{FAQs}
\T[pg,text=g500,font=\fontsize{14}{18}\selectfont]{fcs2}{413}{4483.3}{·}
\T[pg,text=g500,font=\fontsize{14}{18}\selectfont]{fc3}{427.4}{4483.3}{Terms}
\T[pg,text=g500,font=\fontsize{14}{18}\selectfont]{fcs3}{479}{4483.3}{·}
\T[pg,text=g500,font=\fontsize{14}{18}\selectfont]{fc4}{494.4}{4483.3}{Privacy}
\node[inner sep=0pt,anchor=north east] (tns) at (1038.4,4345.7) {\resizebox{199.6pt}{23.3pt}{\logofont\bfseries\textcolor{tnscyan}{THE}\textcolor{tnspink}{NEW}\textcolor{tnscyan}{STACK}}};
\T[pgr,text=g500,font=\fontsize{16}{24}\selectfont]{fr1}{1038.4}{4397.3}{The leading DevOps resource for Kubernetes,}
\T[pgr,text=g500,font=\fontsize{16}{24}\selectfont]{fr2}{1038.4}{4421.3}{cloud-native computing, and the latest in at-}
\T[pgr,text=g500,font=\fontsize{16}{24}\selectfont]{fr3}{1038.4}{4445.3}{scale development, deployment, and}
\T[pgr,text=g500,font=\fontsize{16}{24}\selectfont]{fr4}{1038.4}{4469.3}{management.}
\T[pg,text=g500,font=\fontsize{14}{18}\selectfont]{fl1}{763.5}{4508.3}{DevOps}
\T[pg,text=g500,font=\fontsize{14}{18}\selectfont]{fls1}{829}{4508.3}{·}
\T[pg,text=g500,font=\fontsize{14}{18}\selectfont]{fl2}{843.9}{4508.3}{Kubernetes}
\T[pg,text=g500,font=\fontsize{14}{18}\selectfont]{fls2}{934}{4508.3}{·}
\T[pgr,text=g500,font=\fontsize{14}{18}\selectfont]{fl3}{1038.4}{4508.3}{Cloud-Native}
\end{tikzpicture}
\end{document}
